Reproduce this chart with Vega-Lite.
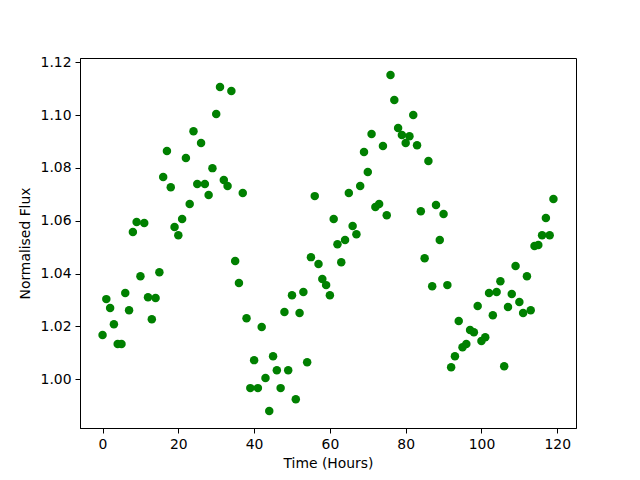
{
  "$schema": "https://vega.github.io/schema/vega-lite/v6.json",
  "autosize": {"type": "none"},
  "width": 496,
  "height": 370,
  "padding": {"left": 80, "top": 58, "right": 64, "bottom": 52},
  "background": "white",
  "config": {
    "view": {"stroke": "black", "strokeWidth": 1},
    "axis": {
      "grid": false,
      "domainColor": "black",
      "domainWidth": 1,
      "tickColor": "black",
      "tickSize": 5,
      "tickWidth": 1,
      "labelFont": "DejaVu Sans",
      "labelFontSize": 13.9,
      "labelColor": "black",
      "labelPadding": 4,
      "titleFont": "DejaVu Sans",
      "titleFontSize": 13.9,
      "titleFontWeight": "normal",
      "titleColor": "black"
    }
  },
  "data": {
    "values": [
      {"t": 0, "f": 1.0167}, {"t": 1, "f": 1.0303}, {"t": 2, "f": 1.0269}, {"t": 3, "f": 1.0208},
      {"t": 4, "f": 1.0133}, {"t": 5, "f": 1.0133}, {"t": 6, "f": 1.0326}, {"t": 7, "f": 1.0261},
      {"t": 8, "f": 1.0557}, {"t": 9, "f": 1.0595}, {"t": 10, "f": 1.039}, {"t": 11, "f": 1.0591},
      {"t": 12, "f": 1.031}, {"t": 13, "f": 1.0227}, {"t": 14, "f": 1.0307}, {"t": 15, "f": 1.0405},
      {"t": 16, "f": 1.0765}, {"t": 17, "f": 1.0864}, {"t": 18, "f": 1.0727}, {"t": 19, "f": 1.0576},
      {"t": 20, "f": 1.0545}, {"t": 21, "f": 1.0606}, {"t": 22, "f": 1.0837}, {"t": 23, "f": 1.0663},
      {"t": 24, "f": 1.0939}, {"t": 25, "f": 1.0739}, {"t": 26, "f": 1.0894}, {"t": 27, "f": 1.0739},
      {"t": 28, "f": 1.0697}, {"t": 29, "f": 1.0799}, {"t": 30, "f": 1.1004}, {"t": 31, "f": 1.1106},
      {"t": 32, "f": 1.0754}, {"t": 33, "f": 1.0731}, {"t": 34, "f": 1.1091}, {"t": 35, "f": 1.0447},
      {"t": 36, "f": 1.0364}, {"t": 37, "f": 1.0705}, {"t": 38, "f": 1.0231}, {"t": 39, "f": 0.9966},
      {"t": 40, "f": 1.0072}, {"t": 41, "f": 0.9966}, {"t": 42, "f": 1.0197}, {"t": 43, "f": 1.0004},
      {"t": 44, "f": 0.9879}, {"t": 45, "f": 1.0087}, {"t": 46, "f": 1.0034}, {"t": 47, "f": 0.9966},
      {"t": 48, "f": 1.0254}, {"t": 49, "f": 1.0034}, {"t": 50, "f": 1.0318}, {"t": 51, "f": 0.9924},
      {"t": 52, "f": 1.025}, {"t": 53, "f": 1.033}, {"t": 54, "f": 1.0064}, {"t": 55, "f": 1.0462},
      {"t": 56, "f": 1.0693}, {"t": 57, "f": 1.0436}, {"t": 58, "f": 1.0379}, {"t": 59, "f": 1.0356},
      {"t": 60, "f": 1.0318}, {"t": 61, "f": 1.0606}, {"t": 62, "f": 1.0511}, {"t": 63, "f": 1.0443},
      {"t": 64, "f": 1.0527}, {"t": 65, "f": 1.0705}, {"t": 66, "f": 1.058}, {"t": 67, "f": 1.0549},
      {"t": 68, "f": 1.0731}, {"t": 69, "f": 1.086}, {"t": 70, "f": 1.0784}, {"t": 71, "f": 1.0928},
      {"t": 72, "f": 1.0652}, {"t": 73, "f": 1.0663}, {"t": 74, "f": 1.0883}, {"t": 75, "f": 1.0621},
      {"t": 76, "f": 1.1152}, {"t": 77, "f": 1.1057}, {"t": 78, "f": 1.0951}, {"t": 79, "f": 1.0924},
      {"t": 80, "f": 1.0894}, {"t": 81, "f": 1.092}, {"t": 82, "f": 1.1}, {"t": 83, "f": 1.0886},
      {"t": 84, "f": 1.0636}, {"t": 85, "f": 1.0458}, {"t": 86, "f": 1.0826}, {"t": 87, "f": 1.0352},
      {"t": 88, "f": 1.0659}, {"t": 89, "f": 1.0527}, {"t": 90, "f": 1.0625}, {"t": 91, "f": 1.0356},
      {"t": 92, "f": 1.0045}, {"t": 93, "f": 1.0087}, {"t": 94, "f": 1.022}, {"t": 95, "f": 1.0121},
      {"t": 96, "f": 1.0133}, {"t": 97, "f": 1.0186}, {"t": 98, "f": 1.0178}, {"t": 99, "f": 1.0277},
      {"t": 100, "f": 1.0144}, {"t": 101, "f": 1.0159}, {"t": 102, "f": 1.0326}, {"t": 103, "f": 1.0242},
      {"t": 104, "f": 1.033}, {"t": 105, "f": 1.0371}, {"t": 106, "f": 1.0049}, {"t": 107, "f": 1.0273},
      {"t": 108, "f": 1.0322}, {"t": 109, "f": 1.0428}, {"t": 110, "f": 1.0292}, {"t": 111, "f": 1.025},
      {"t": 112, "f": 1.039}, {"t": 113, "f": 1.0261}, {"t": 114, "f": 1.0504}, {"t": 115, "f": 1.0508},
      {"t": 116, "f": 1.0545}, {"t": 117, "f": 1.061}, {"t": 118, "f": 1.0545}, {"t": 119, "f": 1.0682}
    ]
  },
  "mark": {"type": "point", "filled": true, "shape": "circle", "size": 72, "color": "#008000", "opacity": 1},
  "encoding": {
    "x": {
      "field": "t", "type": "quantitative",
      "scale": {"domain": [-5.95, 124.95], "nice": false, "zero": false},
      "axis": {"values": [0, 20, 40, 60, 80, 100, 120], "format": "d", "title": "Time (Hours)", "titlePadding": 6}
    },
    "y": {
      "field": "f", "type": "quantitative",
      "scale": {"domain": [0.9815, 1.1216], "nice": false, "zero": false},
      "axis": {"values": [1.0, 1.02, 1.04, 1.06, 1.08, 1.1, 1.12], "format": ".2f", "title": "Normalised Flux", "titlePadding": 8}
    }
  }
}
